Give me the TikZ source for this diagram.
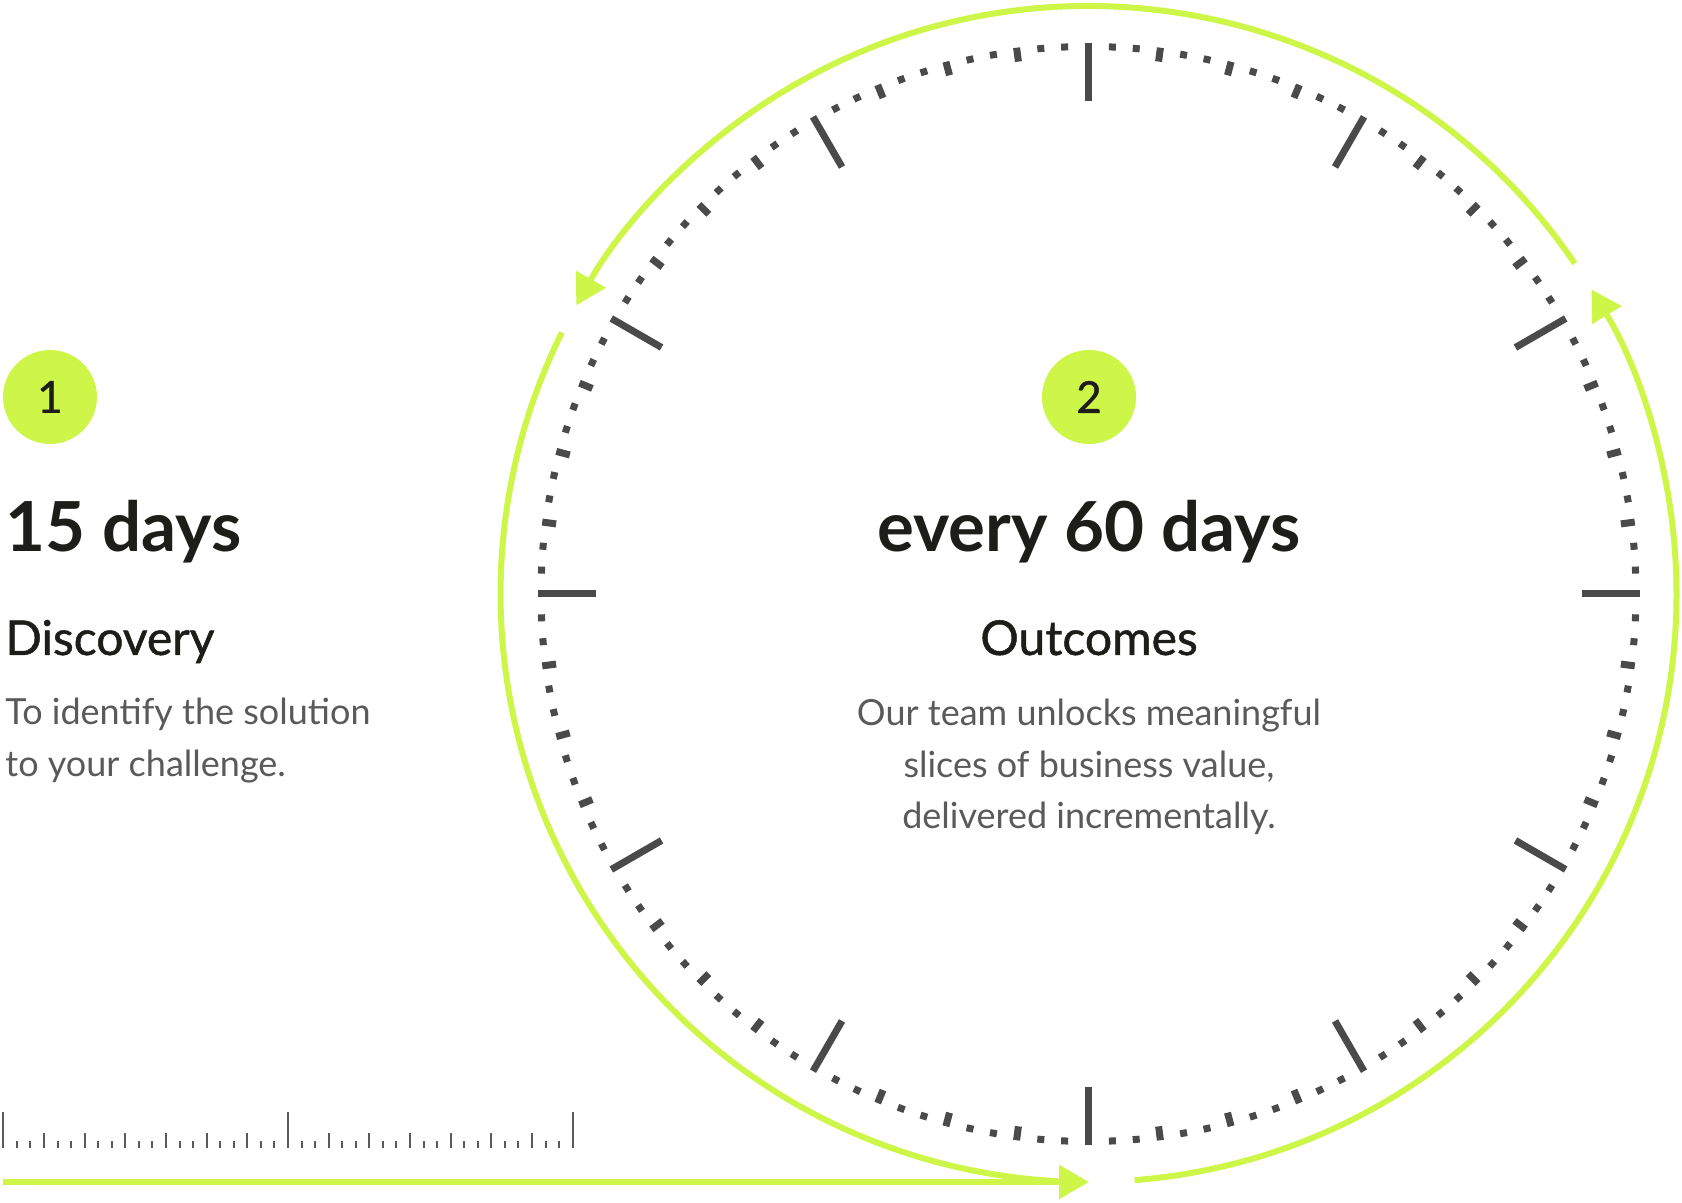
\documentclass[tikz,border=0pt]{standalone}
\usepackage{fontspec}
\setmainfont{Lato}
\newfontfamily\midfont[FakeBold=1]{Lato}
\usetikzlibrary{arrows.meta,positioning}
\definecolor{lime}{HTML}{CDF649}
\definecolor{ink}{HTML}{1D1D19}
\definecolor{muted}{HTML}{5A5A5A}
\definecolor{dial}{HTML}{4A4A4A}

\begin{document}
\begin{tikzpicture}[x=0.5pt, y=0.5pt,
  badge/.style={circle, fill=lime, minimum size=47pt, inner sep=0pt, font=\midfont\fontsize{22}{22}\selectfont, text=ink},
  big/.style={font=\bfseries\fontsize{34.5}{40}\selectfont, text=ink, inner sep=0pt},
  head/.style={font=\midfont\fontsize{24}{28}\selectfont, text=ink, inner sep=0pt},
  body/.style={font=\fontsize{18}{25.6}\selectfont, text=muted, inner sep=0pt},
  loop/.style={lime, line width=3pt},
  arrow/.style={loop, -{Triangle[length=15pt, width=16.5pt]}},
  tick/.style={dial, line width=3.5pt},
  rule/.style={muted, line width=1pt}
]
\useasboundingbox (0,0) rectangle (1682,1203);
\coordinate (hub) at (1088.5,609);

\node[badge] (one) at (50,806) {1};
\node[big, anchor=base west] (days) at (5,651) {15 days};
\node[head, below=51.5pt of days.base west, anchor=base west] (disc) {Discovery};
\node[body, align=left, below=60.6pt of disc.base west, anchor=base west] (discText) {To identify the solution\\to your challenge.};

\node[badge] (two) at (1089,806) {2};
\node[big, anchor=base] (every) at (1089,651) {every 60 days};
\node[head, below=51.5pt of every.base, anchor=base] (outc) {Outcomes};
\node[body, align=center, below=86.7pt of outc.base, anchor=base] (outcText) {Our team unlocks meaningful\\slices of business value,\\delivered incrementally.};

\foreach \i in {0,...,143}{
  \pgfmathsetmacro\len{mod(\i,12)==0 ? 58 : (mod(\i,3)==0 ? 14 : 7)}
  \draw[tick, shift={(hub)}] ({90-2.5*\i}:551) -- ({90-2.5*\i}:{551-\len});
}

\foreach \k in {0,...,42}{
  \pgfmathsetmacro\len{mod(\k,21)==0 ? 36 : (mod(\k,3)==0 ? 15 : 7)}
  \draw[rule] ({3.3+13.557*\k},55) -- ++(0,\len);
}

\coordinate (start) at (3.3,21);
\coordinate (goal) at (1089,21);
\draw[arrow] (start) -- (goal);
\draw[loop] ([shift={(153.6:588)}]hub) arc[start angle=153.6, end angle=267, radius=588];
\draw[arrow] ([shift={(274.5:588)}]hub) arc[start angle=274.5, end angle=391.2, radius=588];
\draw[arrow] ([shift={(34.2:588)}]hub) arc[start angle=34.2, end angle=150.6, radius=588];
\end{tikzpicture}
\end{document}
